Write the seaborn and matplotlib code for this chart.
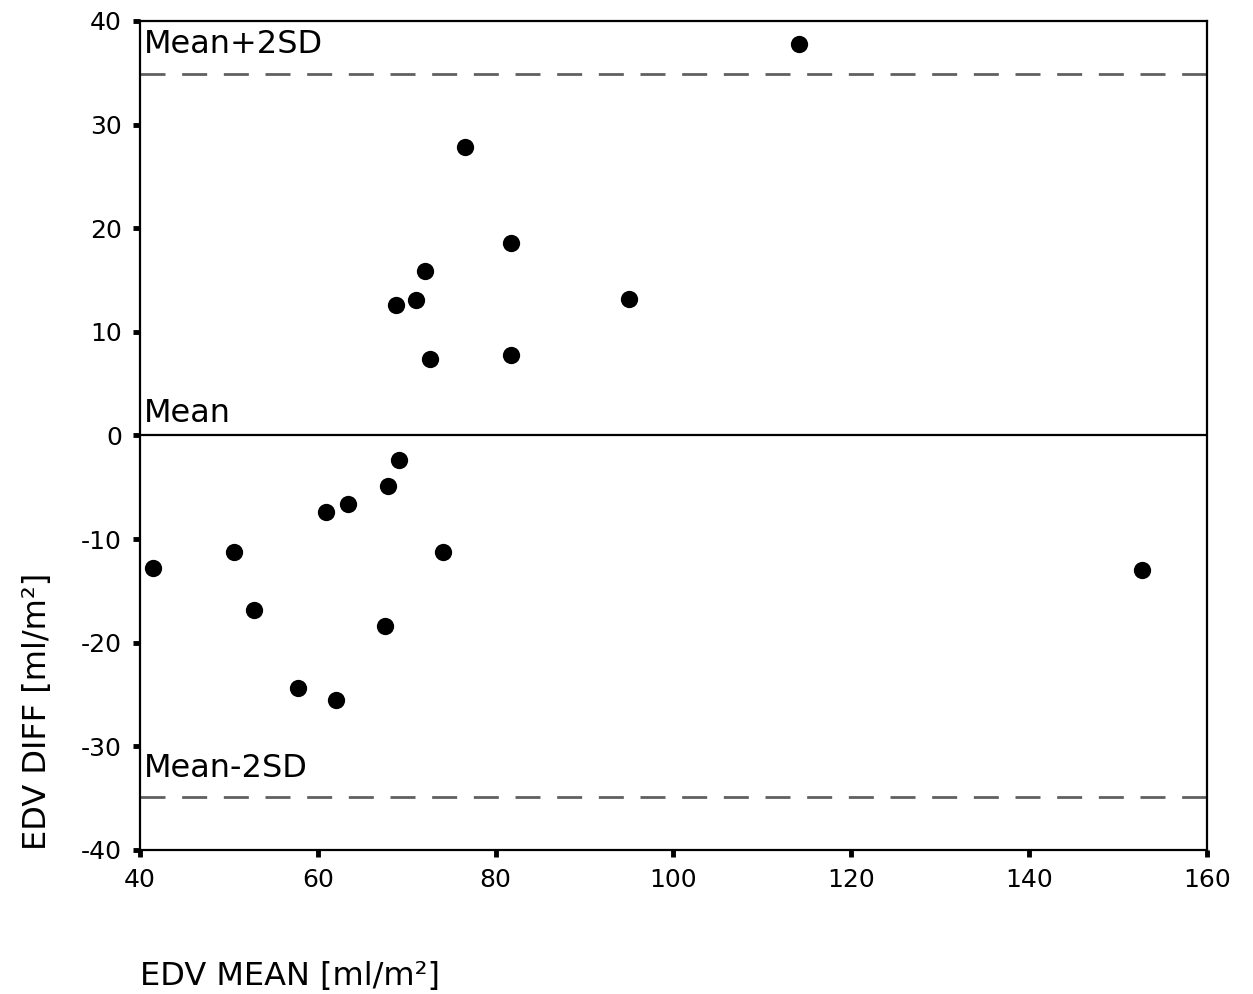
import numpy as np
import pandas as pd
import matplotlib
matplotlib.use("Agg")
import matplotlib.pyplot as plt
import seaborn as sns

# values
edv_mean = [114.1, 76.6, 81.7, 72.0, 68.8, 71.0, 95.0, 72.6, 81.7, 69.1, 67.9,
            63.4, 60.9, 74.1, 50.6, 41.5, 152.7, 52.8, 67.6, 57.8, 62.0]
edv_diff = [37.8, 27.8, 18.6, 15.9, 12.6, 13.1, 13.2, 7.4, 7.8, -2.4, -4.9,
            -6.6, -7.4, -11.2, -11.2, -12.8, -13.0, -16.8, -18.4, -24.4, -25.5]
mean_line = 0.0
upper_line = 34.9
lower_line = -34.9
x_ticks = [40, 60, 80, 100, 120, 140, 160]
y_ticks = [-40, -30, -20, -10, 0, 10, 20, 30, 40]

df = pd.DataFrame({"EDV MEAN": edv_mean, "EDV DIFF": edv_diff})

sns.set_style("white")
plt.rcParams["font.family"] = ["DejaVu Sans"]
plt.rcParams["axes.unicode_minus"] = False
plt.rcParams["text.color"] = "black"
plt.rcParams["axes.labelcolor"] = "black"
plt.rcParams["xtick.color"] = "black"
plt.rcParams["ytick.color"] = "black"

fig = plt.figure(figsize=(12.53, 9.94), dpi=100)
ax = fig.add_axes([0.1117, 0.1449, 0.9633 - 0.1117, 0.9789 - 0.1449])

sns.scatterplot(data=df, x="EDV MEAN", y="EDV DIFF", ax=ax, color="black",
                s=155, edgecolor="black", linewidth=0, zorder=3)

ax.axhline(mean_line, color="black", lw=1.6, zorder=2)
ax.axhline(upper_line, color="#606060", lw=2, dashes=(9, 6), zorder=2)
ax.axhline(lower_line, color="#606060", lw=2, dashes=(9, 6), zorder=2)

ax.text(40.4, upper_line + 1.3, "Mean+2SD", fontsize=23, ha="left", va="bottom")
ax.text(40.4, mean_line + 0.6, "Mean", fontsize=23, ha="left", va="bottom")
ax.text(40.4, lower_line + 1.3, "Mean-2SD", fontsize=23, ha="left", va="bottom")

ax.set_xlim(40, 160)
ax.set_ylim(-40, 40)
ax.set_xticks(x_ticks)
ax.set_yticks(y_ticks)
ax.tick_params(axis="both", direction="out", length=5, width=3.5,
               color="black", labelsize=18, pad=8)
ax.tick_params(top=False, right=False, bottom=True, left=True)
for sp in ax.spines.values():
    sp.set_color("black")
    sp.set_linewidth(1.6)

ax.set_xlabel("EDV MEAN [ml/m²]", fontsize=23, loc="left", labelpad=50)
ax.set_ylabel("EDV DIFF [ml/m²]", fontsize=23, loc="bottom", labelpad=20)

fig.savefig("out.png", dpi=100)
